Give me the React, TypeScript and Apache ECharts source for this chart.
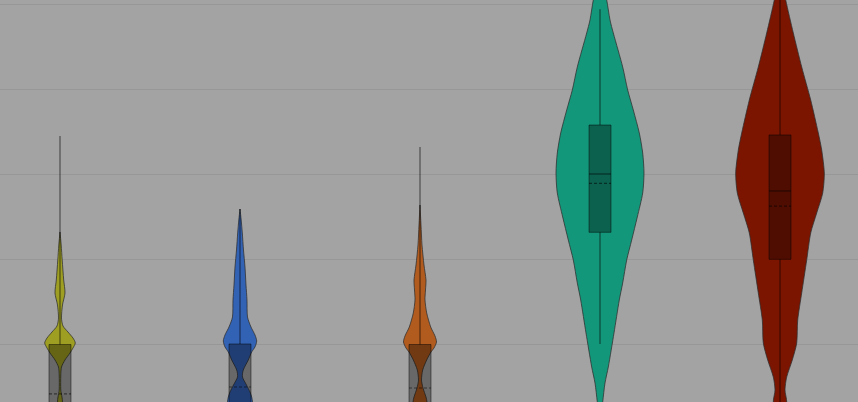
import React, { useEffect, useRef } from 'react';
import * as echarts from 'echarts';

const CATEGORIES = ['trace 0', 'trace 1', 'trace 2', 'trace 3', 'trace 4'];
const COLORS = ['#9e9e22', '#3262b4', '#b15b1e', '#13977a', '#7b1500'];

// violin outlines: [value, density]
const PROFILE_0 = [
  [13.24, 0], [11.71, 1.2], [9.94, 2.2], [7.59, 3.7], [6.06, 5], [4.65, 2.5], [3.12, 1.5],
  [2.18, 3], [1.47, 8], [0.76, 13], [0.18, 15.3], [-0.41, 13], [-1.0, 10], [-1.82, 5],
  [-2.65, 1.5], [-3.59, 0.8], [-5.35, 0.8], [-6.18, 2], [-6.76, 2.5], [-8.29, 1], [-9.5, 0],
];
const PROFILE_1 = [
  [15.94, 0], [14.65, 1.2], [13.12, 2.3], [11.12, 3.5], [9.12, 5], [7.0, 6], [5.24, 7],
  [3.24, 7.5], [2.06, 11], [1.12, 15], [0.41, 16.7], [-0.29, 15], [-0.88, 11.7], [-1.82, 8.3],
  [-3.0, 3.3], [-3.82, 2.5], [-4.76, 6.5], [-5.59, 10], [-6.18, 11.7], [-6.76, 12.5],
  [-8.29, 12], [-10, 0],
];
const PROFILE_2 = [
  [16.41, 0], [14.06, 1], [11.71, 2], [9.35, 4], [7.59, 6], [6.41, 5.5], [5.24, 5],
  [3.71, 6.7], [2.06, 10.7], [1.0, 15], [0.29, 16.5], [-0.41, 14], [-0.88, 11], [-1.82, 6.7],
  [-3.0, 2.7], [-4.18, 1.5], [-5.12, 3], [-6.18, 6], [-6.76, 7], [-8.29, 7], [-10, 0],
];
const PROFILE_3 = [
  [44, 0], [42.29, 3], [40.53, 6.7], [38.18, 10], [36.65, 13.3], [32.65, 22.7], [29.94, 27.7],
  [27.59, 33.3], [24.88, 39.3], [22.53, 42.7], [20.18, 44], [17.82, 42.7], [15.0, 37.3],
  [12.29, 31.7], [9.94, 26.7], [7.24, 22.7], [5.24, 19.3], [1.35, 14], [-2.65, 8.3],
  [-4.53, 5], [-6.76, 2.7], [-8.88, 0.5], [-9.5, 0],
];
const PROFILE_4 = [
  [44, 0], [42.88, 2], [40.53, 5.7], [36.65, 13.3], [32.65, 21.7], [28.76, 30.7], [24.88, 38.3],
  [22.88, 41.7], [20.18, 44.3], [17.82, 42.7], [15.47, 36.7], [13.12, 30.7], [9.94, 26.7],
  [6.06, 21.7], [2.88, 17.7], [0.18, 16.7], [-1.82, 12.3], [-3.82, 6.7], [-5.35, 5],
  [-6.76, 6.7], [-8.88, 4], [-10, 0],
];
const PROFILES = [PROFILE_0, PROFILE_1, PROFILE_2, PROFILE_3, PROFILE_4];

// box stats
const WHISKER_LOW = [-11, -11, -11, 0.06, -12];
const Q1 = [-9, -9, -9, 13.2, 10.02];
const MEDIAN = [-7.5, -7.5, -7.5, 20.06, 18.06];
const MEAN = [-5.82, -5.0, -5.12, 18.96, 16.29];
const Q3 = [0, 0.06, 0, 25.82, 24.65];
const WHISKER_HIGH = [24.53, 15.94, 23.24, 39.44, 45];

// visible window of the (zoomed-in) axes
const X_RANGE = [-0.3333, 4.4333];
const Y_RANGE = [-6.7647, 40.5294];
const GRID_LINES = [0, 10, 20, 30, 40];

export default function App() {
  const ref = useRef<HTMLDivElement>(null);
  useEffect(() => {
    const chart = echarts.init(ref.current!, null, { renderer: 'svg' });
    chart.setOption({
      animation: false,
      backgroundColor: '#a3a3a3',
      grid: { left: 0, right: 0, top: 0, bottom: 0, containLabel: false },
      xAxis: {
        type: 'value', min: X_RANGE[0], max: X_RANGE[1], show: false, splitLine: { show: false },
      },
      yAxis: {
        type: 'value', min: Y_RANGE[0], max: Y_RANGE[1],
        axisLine: { show: false }, axisTick: { show: false }, axisLabel: { show: false },
        splitLine: { show: false },
      },
      series: [
        {
          type: 'custom',
          clip: true,
          data: CATEGORIES.map((_, i) => [i]),
          markLine: {
            silent: true,
            symbol: 'none',
            label: { show: false },
            lineStyle: { color: '#979797', width: 1, type: 'solid' },
            data: GRID_LINES.map((v) => ({ yAxis: v })),
            z: 0,
          },
          renderItem: (params: any, api: any) => {
            const i = params.dataIndex;
            const unit = api.size([1, 0])[0] / 180;
            const cx = api.coord([i, 0])[0];
            const prof = PROFILES[i];
            const right = prof.map((p) => [cx + p[1] * unit, api.coord([i, p[0]])[1]]);
            const left = prof.slice().reverse().map((p) => [cx - p[1] * unit, api.coord([i, p[0]])[1]]);
            const pts = right.concat(left);
            const y = (v: number) => api.coord([i, v])[1];
            const bw = 11 * unit;
            const lineStyle = { stroke: 'rgba(0,0,0,0.45)', lineWidth: 1.4 };
            return {
              type: 'group',
              children: [
                {
                  type: 'polygon',
                  shape: { points: pts, smooth: 0.25 },
                  style: { fill: COLORS[i], stroke: 'rgba(45,45,45,0.75)', lineWidth: 1 },
                },
                {
                  type: 'line',
                  shape: { x1: cx, y1: y(WHISKER_HIGH[i]), x2: cx, y2: y(Q3[i]) },
                  style: lineStyle,
                },
                {
                  type: 'line',
                  shape: { x1: cx, y1: y(Q1[i]), x2: cx, y2: y(WHISKER_LOW[i]) },
                  style: lineStyle,
                },
                {
                  type: 'rect',
                  shape: { x: cx - bw, y: y(Q3[i]), width: 2 * bw, height: y(Q1[i]) - y(Q3[i]) },
                  style: { fill: 'rgba(0,0,0,0.36)', stroke: 'rgba(0,0,0,0.45)', lineWidth: 1 },
                },
                {
                  type: 'line',
                  shape: { x1: cx - bw, y1: y(MEDIAN[i]), x2: cx + bw, y2: y(MEDIAN[i]) },
                  style: { stroke: 'rgba(0,0,0,0.5)', lineWidth: 1.2 },
                },
                {
                  type: 'line',
                  shape: { x1: cx - bw, y1: y(MEAN[i]), x2: cx + bw, y2: y(MEAN[i]) },
                  style: { stroke: 'rgba(0,0,0,0.5)', lineWidth: 1.2, lineDash: [3, 2] },
                },
              ],
            };
          },
        },
      ],
    });
    return () => chart.dispose();
  }, []);
  return (
    <div
      ref={ref}
      style={{ position: 'fixed', left: 0, top: 0, width: 858, height: 402 }}
    />
  );
}
